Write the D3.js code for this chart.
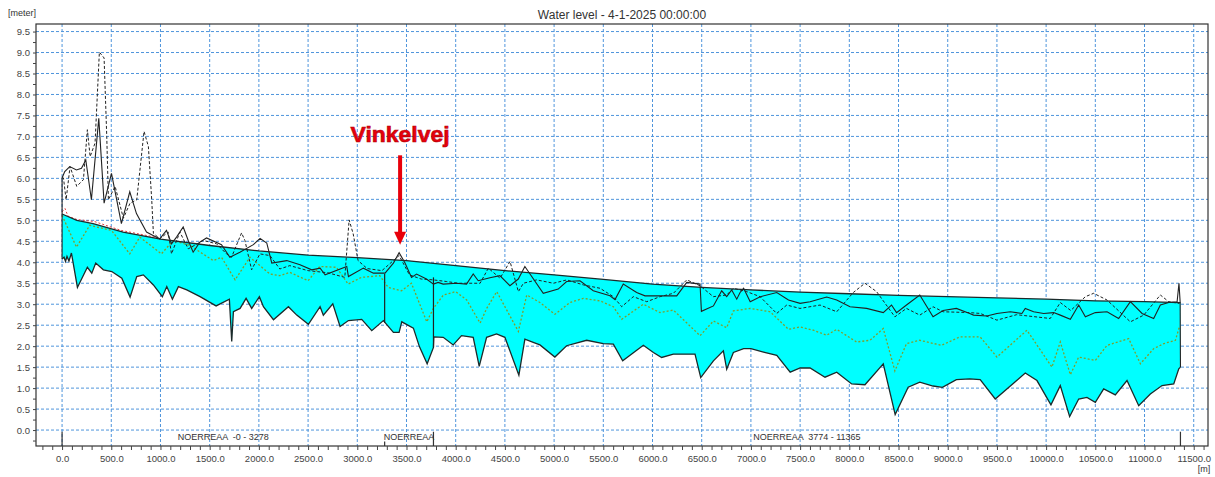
<!DOCTYPE html>
<html>
<head>
<meta charset="utf-8">
<script src="https://cdn.jsdelivr.net/npm/d3@7"></script>
<style>
  body { margin: 0; background: #fff; }
  svg { display: block; font-family: "Liberation Sans", Arial, sans-serif; }
</style>
</head>
<body>
<svg id="chart" width="1215" height="477"></svg>
<script>
// chainage [m], level [meter]
var waterLevel = [[0,5.15],[150,5.0],[315,4.92],[620,4.72],[1000,4.55],[1500,4.40],[2000,4.27],[2500,4.17],[3000,4.11],[3500,4.04],[4000,3.92],[4500,3.80],[5000,3.70],[5500,3.59],[6000,3.48],[6500,3.40],[7000,3.34],[7500,3.29],[8000,3.25],[8500,3.21],[9000,3.18],[9500,3.15],[10000,3.12],[10500,3.08],[11000,3.06],[11365,3.04]];

var bedLevel = [[0,4.08],[20,4.12],[35,4.02],[50,4.14],[70,4.03],[95,4.22],[156,3.40],[257,3.88],[302,3.74],[342,3.98],[420,3.82],[505,3.78],[607,3.62],[691,3.17],[759,3.66],[826,3.70],[928,3.46],[1019,3.18],[1064,3.42],[1121,3.12],[1182,3.42],[1267,3.34],[1402,3.18],[1565,2.96],[1700,3.12],[1724,2.11],[1741,2.82],[1809,2.90],[1870,3.14],[1927,2.90],[2005,3.18],[2046,2.94],[2148,2.63],[2300,2.94],[2385,2.74],[2503,2.52],[2622,2.94],[2655,2.74],[2751,3.01],[2825,2.47],[2910,2.61],[3045,2.64],[3147,2.37],[3265,2.61],[3367,2.33],[3425,2.33],[3452,2.58],[3570,2.43],[3631,1.99],[3710,1.58],[3774,1.97],[3778,2.22],[3873,2.21],[3975,2.03],[4059,2.25],[4178,2.21],[4239,1.52],[4314,2.21],[4415,2.29],[4500,2.21],[4642,1.31],[4703,2.17],[4788,2.09],[4856,2.03],[5008,1.74],[5127,2.01],[5331,2.14],[5500,2.06],[5602,2.05],[5697,1.65],[5907,2.02],[6009,1.85],[6093,1.73],[6212,1.81],[6432,1.81],[6490,1.25],[6619,1.65],[6720,1.89],[6754,1.45],[6822,1.85],[6926,1.94],[7000,1.94],[7128,1.86],[7263,1.78],[7399,1.38],[7500,1.48],[7601,1.48],[7753,1.26],[7872,1.38],[8024,1.10],[8159,1.08],[8345,1.58],[8466,0.37],[8598,1.02],[8716,1.14],[8851,1.05],[8946,1.02],[9088,1.20],[9223,1.22],[9330,1.20],[9483,0.74],[9788,1.36],[9907,1.18],[10049,0.60],[10144,1.06],[10239,0.32],[10331,0.74],[10415,0.78],[10500,0.66],[10585,0.98],[10703,0.84],[10822,1.18],[10941,0.58],[11059,0.86],[11178,1.06],[11297,1.10],[11348,1.46],[11365,1.50]];

var leftBank = [[0,4.08],[0,6.01],[27,6.16],[78,6.28],[146,6.20],[197,6.24],[241,6.44],[298,5.49],[373,7.43],[427,5.41],[502,6.12],[603,4.92],[688,5.68],[756,5.16],[858,4.72],[925,4.64],[993,4.56],[1061,4.76],[1112,4.44],[1163,4.60],[1231,4.84],[1282,4.52],[1332,4.24],[1400,4.48],[1468,4.58],[1620,4.42],[1705,4.12],[1807,4.24],[1944,4.42],[2012,4.57],[2080,4.46],[2131,3.98],[2283,4.04],[2418,3.94],[2537,3.82],[2622,3.86],[2673,3.70],[2893,3.90],[2910,3.66],[3062,3.86],[3164,3.74],[3282,3.74],[3367,3.98],[3425,4.23],[3485,3.98],[3551,3.64],[3602,3.72],[3703,3.60],[3774,3.48],[3822,3.52],[3873,3.48],[4008,3.50],[4110,3.48],[4178,3.72],[4229,3.56],[4348,3.63],[4449,3.68],[4551,3.44],[4636,3.60],[4703,3.90],[4890,3.26],[5042,3.36],[5127,3.54],[5263,3.56],[5398,3.32],[5568,3.20],[5619,3.11],[5703,3.48],[5839,3.28],[5924,3.20],[6246,3.20],[6348,3.52],[6483,3.48],[6497,2.83],[6619,2.96],[6703,3.32],[6754,3.18],[6805,3.34],[6856,3.12],[6890,3.28],[6926,3.38],[6993,3.06],[7095,3.18],[7263,3.28],[7382,3.10],[7500,3.02],[7601,3.06],[7770,3.17],[7872,3.10],[8007,2.94],[8176,2.90],[8345,2.80],[8429,2.98],[8480,2.80],[8581,2.98],[8716,3.22],[8851,2.70],[8953,2.85],[9088,2.90],[9223,2.78],[9263,2.74],[9398,2.72],[9500,2.78],[9636,2.82],[9754,2.78],[9788,2.90],[9873,2.82],[9975,2.78],[10076,2.80],[10144,2.74],[10246,2.64],[10331,2.98],[10399,2.70],[10500,2.80],[10619,2.82],[10737,2.66],[10856,3.06],[10975,2.78],[11093,2.66],[11161,2.98],[11246,3.04],[11331,3.06],[11350,3.50],[11362,3.05],[11365,1.50]];

var rightBank = [[0,6.01],[14,6.01],[41,5.49],[81,6.28],[149,5.81],[217,5.97],[257,7.16],[285,6.52],[335,6.84],[379,9.01],[427,8.87],[454,7.00],[471,5.49],[539,5.81],[623,5.05],[691,5.41],[759,5.49],[833,7.12],[877,6.76],[911,5.49],[928,4.69],[993,4.56],[1078,4.72],[1112,4.20],[1197,4.72],[1282,4.32],[1434,4.52],[1570,4.44],[1671,4.20],[1722,4.12],[1824,4.70],[1858,4.52],[1926,3.82],[2010,4.20],[2112,4.16],[2213,3.84],[2314,3.92],[2500,3.80],[2700,3.75],[2873,3.64],[2917,5.01],[2958,4.68],[3008,4.04],[3100,3.85],[3250,3.80],[3425,4.16],[3530,3.70],[3650,3.60],[3773,3.58],[3909,3.54],[4027,3.50],[4248,3.50],[4332,3.86],[4451,3.62],[4552,4.02],[4637,3.30],[4688,3.50],[4823,3.58],[4993,3.50],[5129,3.58],[5298,3.46],[5467,3.38],[5602,3.18],[5687,2.94],[5805,3.18],[5941,3.06],[6077,3.18],[6212,3.26],[6348,3.58],[6483,3.44],[6618,3.18],[6754,3.22],[6822,3.38],[6958,3.30],[7093,3.18],[7262,2.78],[7364,2.98],[7499,2.90],[7703,2.98],[7872,2.82],[8041,3.28],[8159,3.50],[8277,3.30],[8463,2.70],[8581,2.90],[8716,2.74],[8851,2.94],[8953,2.82],[9223,2.80],[9330,2.78],[9500,2.62],[9700,2.75],[10042,2.66],[10144,3.04],[10250,2.85],[10399,3.18],[10483,3.26],[10619,3.10],[10856,2.58],[10992,2.74],[11161,3.22],[11246,3.06],[11354,3.02]];

var groundLevel = [[0,5.12],[146,4.36],[281,4.88],[502,4.76],[688,4.20],[790,4.60],[1010,4.20],[1129,4.52],[1300,4.40],[1536,4.04],[1620,4.12],[1758,3.58],[1909,4.12],[2112,3.72],[2213,3.68],[2314,3.76],[2500,3.56],[2619,3.90],[2788,3.88],[2907,3.48],[3042,3.64],[3229,3.68],[3314,3.40],[3449,3.32],[3550,3.50],[3706,2.58],[3773,2.90],[3875,3.22],[4000,3.30],[4112,3.10],[4248,2.55],[4315,2.90],[4417,3.30],[4637,2.35],[4722,3.22],[4856,3.04],[5008,2.76],[5161,3.04],[5297,3.14],[5466,3.08],[5602,2.94],[5687,2.64],[5907,3.00],[6076,2.80],[6212,2.86],[6483,2.25],[6619,2.60],[6754,2.44],[6822,2.84],[6991,2.90],[7196,2.82],[7382,2.40],[7500,2.46],[7635,2.38],[7770,2.26],[7872,2.40],[8074,2.10],[8210,2.14],[8345,2.42],[8463,1.41],[8581,2.06],[8716,2.14],[8936,2.02],[9122,2.22],[9330,2.22],[9500,1.74],[9805,2.38],[10059,1.50],[10144,2.10],[10246,1.32],[10331,1.74],[10500,1.66],[10619,2.02],[10839,2.18],[10958,1.58],[11093,1.94],[11195,2.06],[11314,2.14],[11354,2.46]];

var maxLevel = [[0,5.20],[30,5.28],[60,5.10],[150,5.02],[330,4.97],[600,4.76],[900,4.62],[1000,4.57]];

// vertical structure lines: chainage, bottom, top
var structures = [[3278,2.56,3.72],[3774,1.97,3.64]];

var sections = [
  { name: "NOERREAA  -0 - 3278", start: 0, end: 3278 },
  { name: "NOERREAA", start: 3278, end: 3774 },
  { name: "NOERREAA  3774 - 11365", start: 3774, end: 11365 },
];
var sectionMarks = [[0, true], [3278, false], [3774, true], [11365, true]];

var annotation = { label: "Vinkelvej", chainage: 3435, from: 6.55, to: 4.42 };

var title = "Water level - 4-1-2025 00:00:00";

var svg = d3.select("#chart"),
  plotLeft = 36, plotRight = 1208, plotTop = 24, plotBottom = 446;

var x = d3.scaleLinear().domain([-265, 11645]).range([plotLeft, plotRight]);
var y = d3.scaleLinear().domain([-0.38, 9.68]).range([plotBottom, plotTop]);

var gridColor = "#4f95dc";

// grid
svg.append("g")
  .selectAll("line")
  .data(d3.range(0, 9.51, 0.5))
  .enter()
  .append("line")
  .attr("x1", plotLeft).attr("x2", plotRight)
  .attr("y1", function (d) { return y(d); })
  .attr("y2", function (d) { return y(d); })
  .attr("stroke", gridColor)
  .attr("stroke-dasharray", "3,2");

svg.append("g")
  .selectAll("line")
  .data(d3.range(0, 11501, 500))
  .enter()
  .append("line")
  .attr("y1", plotTop).attr("y2", plotBottom)
  .attr("x1", function (d) { return x(d); })
  .attr("x2", function (d) { return x(d); })
  .attr("stroke", gridColor)
  .attr("stroke-dasharray", "3,2");

var line = d3.line()
  .x(function (d) { return x(d[0]); })
  .y(function (d) { return y(d[1]); });

// water body between water surface and bed
var poly = waterLevel.concat(bedLevel.slice().reverse());
svg.append("path")
  .attr("d", line(poly) + "Z")
  .attr("fill", "#00ffff")
  .attr("stroke", "none");

svg.append("path").attr("d", line(groundLevel))
  .attr("fill", "none").attr("stroke", "#7f9f2c")
  .attr("stroke-width", 1.3).attr("stroke-dasharray", "2,2");

svg.append("path").attr("d", line(rightBank))
  .attr("fill", "none").attr("stroke", "#222")
  .attr("stroke-width", 1).attr("stroke-dasharray", "3,2");

svg.append("path").attr("d", line(maxLevel))
  .attr("fill", "none").attr("stroke", "#e04040")
  .attr("stroke-width", 1).attr("stroke-dasharray", "2,2");

svg.append("path").attr("d", line(leftBank))
  .attr("fill", "none").attr("stroke", "#222").attr("stroke-width", 1.1);

svg.append("path").attr("d", line(bedLevel))
  .attr("fill", "none").attr("stroke", "#1c2a2a").attr("stroke-width", 1.3);

svg.append("path").attr("d", line(waterLevel))
  .attr("fill", "none").attr("stroke", "#1c2a2a").attr("stroke-width", 1.3);

svg.append("g")
  .selectAll("line")
  .data(structures)
  .enter()
  .append("line")
  .attr("x1", function (d) { return x(d[0]); })
  .attr("x2", function (d) { return x(d[0]); })
  .attr("y1", function (d) { return y(d[1]); })
  .attr("y2", function (d) { return y(d[2]); })
  .attr("stroke", "#222").attr("stroke-width", 1.2);

// frame
svg.append("rect")
  .attr("x", plotLeft).attr("y", plotTop)
  .attr("width", plotRight - plotLeft).attr("height", plotBottom - plotTop)
  .attr("fill", "none").attr("stroke", "#333").attr("stroke-width", 1.2);

// axes
var fmt = d3.format(".1f");
var xAxis = svg.append("g")
  .attr("transform", "translate(0," + plotBottom + ")")
  .call(d3.axisBottom(x)
    .tickValues(d3.range(-200, 11601, 100))
    .tickSize(4)
    .tickFormat(function (d) { return d >= 0 && d % 500 === 0 ? fmt(d) : ""; }));
xAxis.select(".domain").remove();
xAxis.selectAll("line").attr("stroke", "#444");
xAxis.selectAll("text").attr("fill", "#444").style("font-size", "9.5px").attr("y", 9);

var yAxis = svg.append("g")
  .attr("transform", "translate(" + plotLeft + ",0)")
  .call(d3.axisLeft(y)
    .tickValues(d3.range(-0.25, 9.6, 0.25))
    .tickSize(3)
    .tickFormat(function (d) { return d >= 0 && Math.round(d * 100) % 50 === 0 ? fmt(d) : ""; }));
yAxis.select(".domain").remove();
yAxis.selectAll("line").attr("stroke", "#444");
yAxis.selectAll("text").attr("fill", "#444").style("font-size", "9.5px").attr("x", -6);

// section markers and names
svg.append("g")
  .selectAll("line")
  .data(sectionMarks)
  .enter()
  .append("line")
  .attr("x1", function (d) { return x(d[0]); })
  .attr("x2", function (d) { return x(d[0]); })
  .attr("y1", function (d) { return d[1] ? y(-0.04) : y(-0.27); })
  .attr("y2", plotBottom)
  .attr("stroke", "#333").attr("stroke-width", 1.2);

svg.append("g")
  .selectAll("text")
  .data(sections)
  .enter()
  .append("text")
  .attr("x", function (d) { return x((d.start + d.end) / 2); })
  .attr("y", plotBottom - 6)
  .attr("text-anchor", "middle")
  .style("white-space", "pre")
  .style("font-size", "9px")
  .attr("fill", "#333")
  .text(function (d) { return d.name; });

// titles
svg.append("text")
  .attr("x", (plotLeft + plotRight) / 2).attr("y", 19)
  .attr("text-anchor", "middle")
  .style("font-size", "12px").attr("fill", "#333")
  .text(title);

svg.append("text")
  .attr("x", 8).attr("y", 16)
  .style("font-size", "9px").attr("fill", "#333")
  .text("[meter]");

svg.append("text")
  .attr("x", plotRight - 4).attr("y", 472)
  .attr("text-anchor", "middle")
  .style("font-size", "9px").attr("fill", "#333")
  .text("[m]");

// annotation arrow
var ax = x(annotation.chainage), ay0 = y(annotation.from), ay1 = y(annotation.to);
svg.append("line")
  .attr("x1", ax).attr("x2", ax)
  .attr("y1", ay0).attr("y2", ay1 - 10)
  .attr("stroke", "#e8000b").attr("stroke-width", 4);
svg.append("path")
  .attr("d", "M" + (ax - 6) + "," + (ay1 - 13) + "L" + (ax + 6) + "," + (ay1 - 13) + "L" + ax + "," + ay1 + "Z")
  .attr("fill", "#e8000b");
svg.append("text")
  .attr("x", ax).attr("y", ay0 - 13)
  .attr("text-anchor", "middle")
  .style("font-size", "22px").style("font-weight", "bold")
  .attr("fill", "#e8000b")
  .attr("stroke", "#b00008").attr("stroke-width", 0.6)
  .attr("textLength", 99).attr("lengthAdjust", "spacingAndGlyphs")
  .text(annotation.label);
</script>
</body>
</html>
